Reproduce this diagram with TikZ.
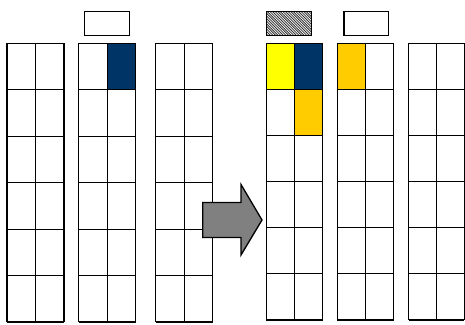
\documentclass[tikz,border=0pt]{standalone}
\usetikzlibrary{patterns}
\definecolor{navy}{HTML}{003366}
\definecolor{gold}{HTML}{FFCC00}
\definecolor{yel}{HTML}{FFFF00}
\definecolor{arrowgray}{HTML}{808080}
\pgfdeclarepatternformonly{densenw}{\pgfqpoint{-1pt}{-1pt}}{\pgfqpoint{3pt}{3pt}}{\pgfqpoint{2.6pt}{2.6pt}}{%
  \pgfsetlinewidth{0.8pt}
  \pgfpathmoveto{\pgfqpoint{0pt}{2.6pt}}
  \pgfpathlineto{\pgfqpoint{2.7pt}{-0.1pt}}
  \pgfusepath{stroke}
}
\tikzset{
  gridline/.style={draw=black,line width=1.1pt},
  labelbox/.style={draw=black,line width=1.3pt,fill=white},
}
% \colgrid{xl}{xm}{xr}{ytop}{ybot}
\newcommand{\colgrid}[5]{%
  \foreach \i in {0,...,6}{
    \draw[gridline] (#1,{#4+(#5-#4)*\i/6}) -- (#3,{#4+(#5-#4)*\i/6});
  }
  \draw[gridline] (#1,#4) -- (#1,#5);
  \draw[gridline] (#2,#4) -- (#2,#5);
  \draw[gridline] (#3,#4) -- (#3,#5);
}
\begin{document}
\begin{tikzpicture}[x=1pt,y=-1pt]
\useasboundingbox (0,0) rectangle (465,324);
% fills left
\fill[navy] (107.3,43.3) rectangle (135.7,89.8);
% fills right
\fill[yel] (266.3,43.3) rectangle (294.7,89.4);
\fill[navy] (294.7,43.3) rectangle (322.7,89.4);
\fill[gold] (294.7,89.4) rectangle (322.7,135.5);
\fill[gold] (337.3,43.3) rectangle (365.7,89.4);
% left grids
\colgrid{7}{35.7}{64}{43.3}{322}
\colgrid{78.7}{107.3}{135.7}{43.3}{322}
\colgrid{155.7}{184.3}{212.7}{43.3}{322}
% right grids
\colgrid{266.3}{294.7}{322.7}{43.3}{320}
\colgrid{337.3}{365.7}{393.7}{43.3}{320}
\colgrid{408.5}{436.7}{464.3}{43.3}{320}
% label boxes
\draw[labelbox] (84.7,11.5) rectangle (129.7,35.5);
\draw[labelbox] (344,11.5) rectangle (388.7,35.5);
\draw[line width=1.3pt,fill=white] (266.3,11.5) rectangle (311.3,35.5);
\fill[pattern=densenw,pattern color=black!80] (266.3,11.5) rectangle (311.3,35.5);
\draw[line width=1.3pt] (266.3,11.5) rectangle (311.3,35.5);
% arrow
\draw[fill=arrowgray,line width=1.3pt,line join=miter]
  (202.7,202.5) -- (241,202.5) -- (241,184.5) -- (262,220) -- (241,255)
  -- (241,237.5) -- (202.7,237.5) -- cycle;
\end{tikzpicture}
\end{document}
